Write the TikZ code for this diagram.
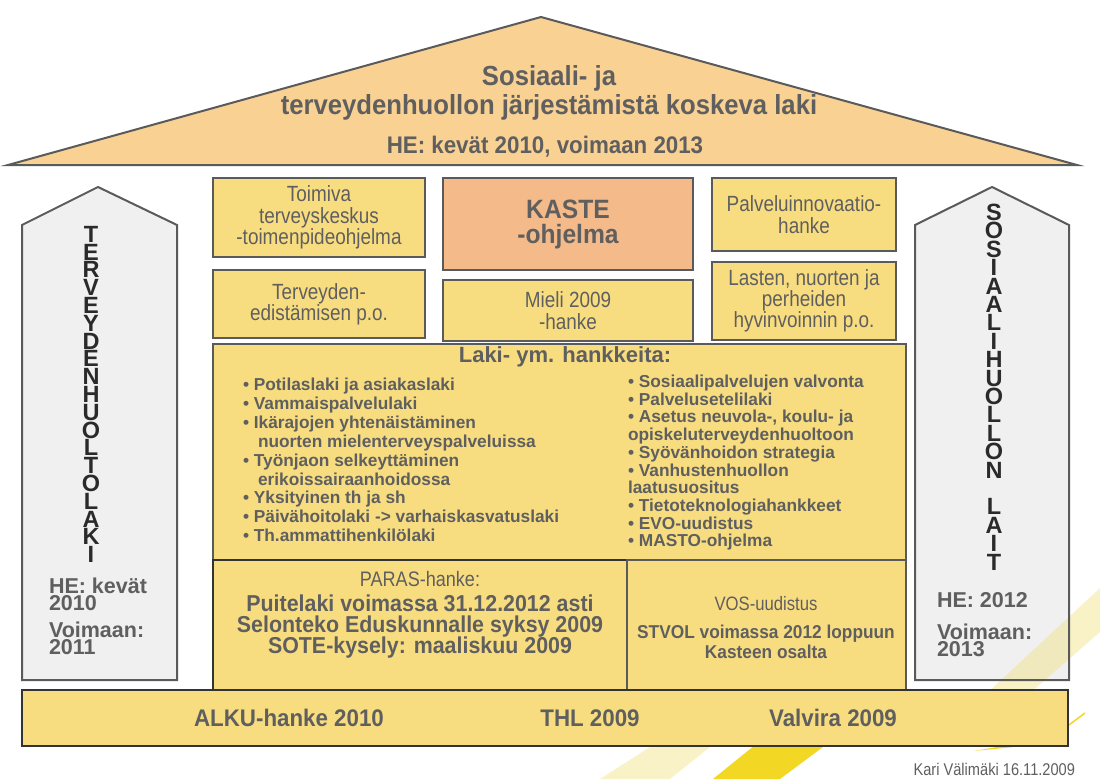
\documentclass[tikz,border=0pt]{standalone}
\usepackage{fontspec}
\setmainfont{Liberation Sans}
\newfontfamily\condfont[FakeStretch=0.86]{Liberation Sans}
\newfontfamily\semicondfont[FakeStretch=0.93]{Liberation Sans}
\newcommand\fsz[2]{\fontsize{#1}{#2}\selectfont}
\definecolor{roofcol}{HTML}{F8D193}
\definecolor{boxcol}{HTML}{F8DD80}
\definecolor{kastecol}{HTML}{F4BA8A}
\definecolor{pillarcol}{HTML}{F0F0F0}
\definecolor{linecol}{HTML}{5A5A5A}
\definecolor{darkline}{HTML}{333333}
\definecolor{txtcol}{HTML}{5F5F5F}
\definecolor{lettercol}{HTML}{2A2A2A}
\definecolor{paleband}{HTML}{F2DC60}
\definecolor{brightband}{HTML}{F2D724}
\begin{document}
\lineskiplimit=-30pt
\lineskip=0pt
\begin{tikzpicture}[x=1pt,y=-1pt,
  every node/.style={inner sep=0pt, outer sep=0pt, text=txtcol},
  prog/.style={draw=linecol, line width=2.6pt, fill=boxcol, anchor=north west,
    align=center, font=\condfont\fsz{22}{21.3}},
  pillarshape/.style={draw=linecol, line width=2pt, line join=miter},
  letters/.style={align=center, text=lettercol, font=\bfseries\fsz{23.5}{17.8}},
  pillartext/.style={anchor=north west, align=left, font=\bfseries\fsz{21.5}{16.8}},
  listtext/.style={anchor=north west, align=left, font=\bfseries\fsz{17.3}{18.9}},
  bottomtext/.style={font=\semicondfont\bfseries\fsz{24}{24}},
]
\useasboundingbox (0,0) rectangle (1100,779);
\fill[white] (0,0) rectangle (1100,779);

% roof
\draw[draw=linecol, line width=2pt, fill=roofcol, line join=miter]
  (8,165) -- (541,17) -- (1077,165) -- cycle;
\node[align=center, font=\semicondfont\bfseries\fsz{27.6}{29}] (rooftitle) at (549,93)
  {Sosiaali- ja\\terveydenhuollon järjestämistä koskeva laki};
\node[font=\semicondfont\bfseries\fsz{24}{24}] (roofdate) at (545,147)
  {HE: kevät 2010, voimaan 2013};

% pillar fills
\fill[pillarcol] (22,680) -- (22,225) -- (98,187) -- (177,225) -- (177,680) -- cycle;
\fill[pillarcol] (915,680) -- (915,225) -- (992,187) -- (1069,225) -- (1069,680) -- cycle;

% pale background band
\fill[paleband, fill opacity=0.35]
  (600,779) -- (650,747) -- (680,720) -- (985,695) -- (1100,588) --
  (1100,632) -- (1037,687) -- (1030,693) -- (740,720) -- (710,747) -- (670,779) -- cycle;

% pillar outlines
\draw[pillarshape] (22,680) -- (22,225) -- (98,187) -- (177,225) -- (177,680) -- cycle;
\draw[pillarshape] (915,680) -- (915,225) -- (992,187) -- (1069,225) -- (1069,680) -- cycle;

% vertical pillar titles
\node[letters] (leftlaw) at (91,394.5)
  {T\\E\\R\\V\\E\\Y\\D\\E\\N\\H\\U\\O\\L\\T\\O\\L\\A\\K\\I};
\node[letters, font=\bfseries\fsz{23.5}{18.4}] (rightlaw) at (994,387)
  {S\\O\\S\\I\\A\\A\\L\\I\\H\\U\\O\\L\\L\\O\\N\\[18.4pt]L\\A\\I\\T};

% pillar dates
\node[pillartext] (lefthe) at (49,578) {HE: kevät\\2010};
\node[pillartext] (leftin) at (49,622) {Voimaan:\\2011};
\node[pillartext] (righthe) at (937,592) {HE: 2012};
\node[pillartext] (rightin) at (937,624) {Voimaan:\\2013};

% programme boxes
\node[prog, minimum width=212pt, minimum height=79pt] (toimiva) at (213,178)
  {Toimiva\\terveyskeskus\\-toimenpideohjelma};
\node[prog, fill=kastecol, minimum width=250pt, minimum height=92pt,
  font=\semicondfont\bfseries\fsz{26.5}{25}] (kaste) at (443,178)
  {KASTE\\-ohjelma};
\node[prog, minimum width=184pt, minimum height=73pt] (palvelu) at (712,178)
  {Palveluinnovaatio-\\hanke};
\node[prog, minimum width=212pt, minimum height=68pt] (terveyden) at (213,270)
  {Terveyden-\\edistämisen p.o.};
\node[prog, minimum width=250pt, minimum height=61pt] (mieli) at (443,280)
  {Mieli 2009\\-hanke};
\node[prog, minimum width=184pt, minimum height=78pt] (lasten) at (712,262)
  {Lasten, nuorten ja\\perheiden\\hyvinvoinnin p.o.};

% law projects
\node[prog, line width=2.4pt, minimum width=693pt, minimum height=216pt] (laki) at (213,344) {};
\node[font=\bfseries\fsz{22}{22}] (lakititle) at (565,357) {Laki- ym. hankkeita:};
\node[listtext] (lakileft) at (243,378)
  {• Potilaslaki ja asiakaslaki\\
   • Vammaispalvelulaki\\
   • Ikärajojen yhtenäistäminen\\
   \hspace*{15pt}nuorten mielenterveyspalveluissa\\
   • Työnjaon selkeyttäminen\\
   \hspace*{15pt}erikoissairaanhoidossa\\
   • Yksityinen th ja sh\\
   • Päivähoitolaki -> varhaiskasvatuslaki\\
   • Th.ammattihenkilölaki};
\node[listtext, font=\bfseries\fsz{17.3}{17.7}] (lakiright) at (628,375)
  {• Sosiaalipalvelujen valvonta\\
   • Palvelusetelilaki\\
   • Asetus neuvola-, koulu- ja\\
   opiskeluterveydenhuoltoon\\
   • Syövänhoidon strategia\\
   • Vanhustenhuollon\\
   laatusuositus\\
   • Tietoteknologiahankkeet\\
   • EVO-uudistus\\
   • MASTO-ohjelma};

% PARAS and VOS
\node[prog, draw=darkline, line width=2.4pt, minimum width=414pt, minimum height=130pt] (paras) at (213,560) {};
\node[prog, line width=2.4pt, minimum width=279pt, minimum height=130pt] (vos) at (627,560) {};
\node[align=center, font=\semicondfont\bfseries\fsz{23}{21}] (parastxt) at (420,615)
  {{\condfont\mdseries\fsz{21}{21}PARAS-hanke:}\\[4pt]
   Puitelaki voimassa 31.12.2012 asti\\
   Selonteko Eduskunnalle syksy 2009\\
   SOTE-kysely: maaliskuu 2009};
\node[align=center, font=\semicondfont\bfseries\fsz{18.6}{20}] (vostxt) at (766,628)
  {{\condfont\mdseries\fsz{19.4}{20}VOS-uudistus}\\[8pt]
   STVOL voimassa 2012 loppuun\\
   Kasteen osalta};

% bright band below the base
\fill[brightband] (713,779) -- (760,741) -- (831,741) -- (780,779) -- cycle;
\fill[brightband] (974,751) -- (1014,744) -- (1014,747) -- cycle;
\draw[brightband, line width=1.5pt] (1069,725) -- (1085,713);

% base
\node[prog, draw=darkline, line width=2.6pt, minimum width=1046pt, minimum height=56pt] (base) at (22,690) {};
\node[bottomtext] (alku) at (289,718) {ALKU-hanke 2010};
\node[bottomtext] (thl) at (590,718) {THL 2009};
\node[bottomtext] (valvira) at (833,718) {Valvira 2009};

\node[anchor=east, font=\condfont\fsz{17}{17}] (author) at (1075,769) {Kari Välimäki 16.11.2009};
\end{tikzpicture}
\end{document}
